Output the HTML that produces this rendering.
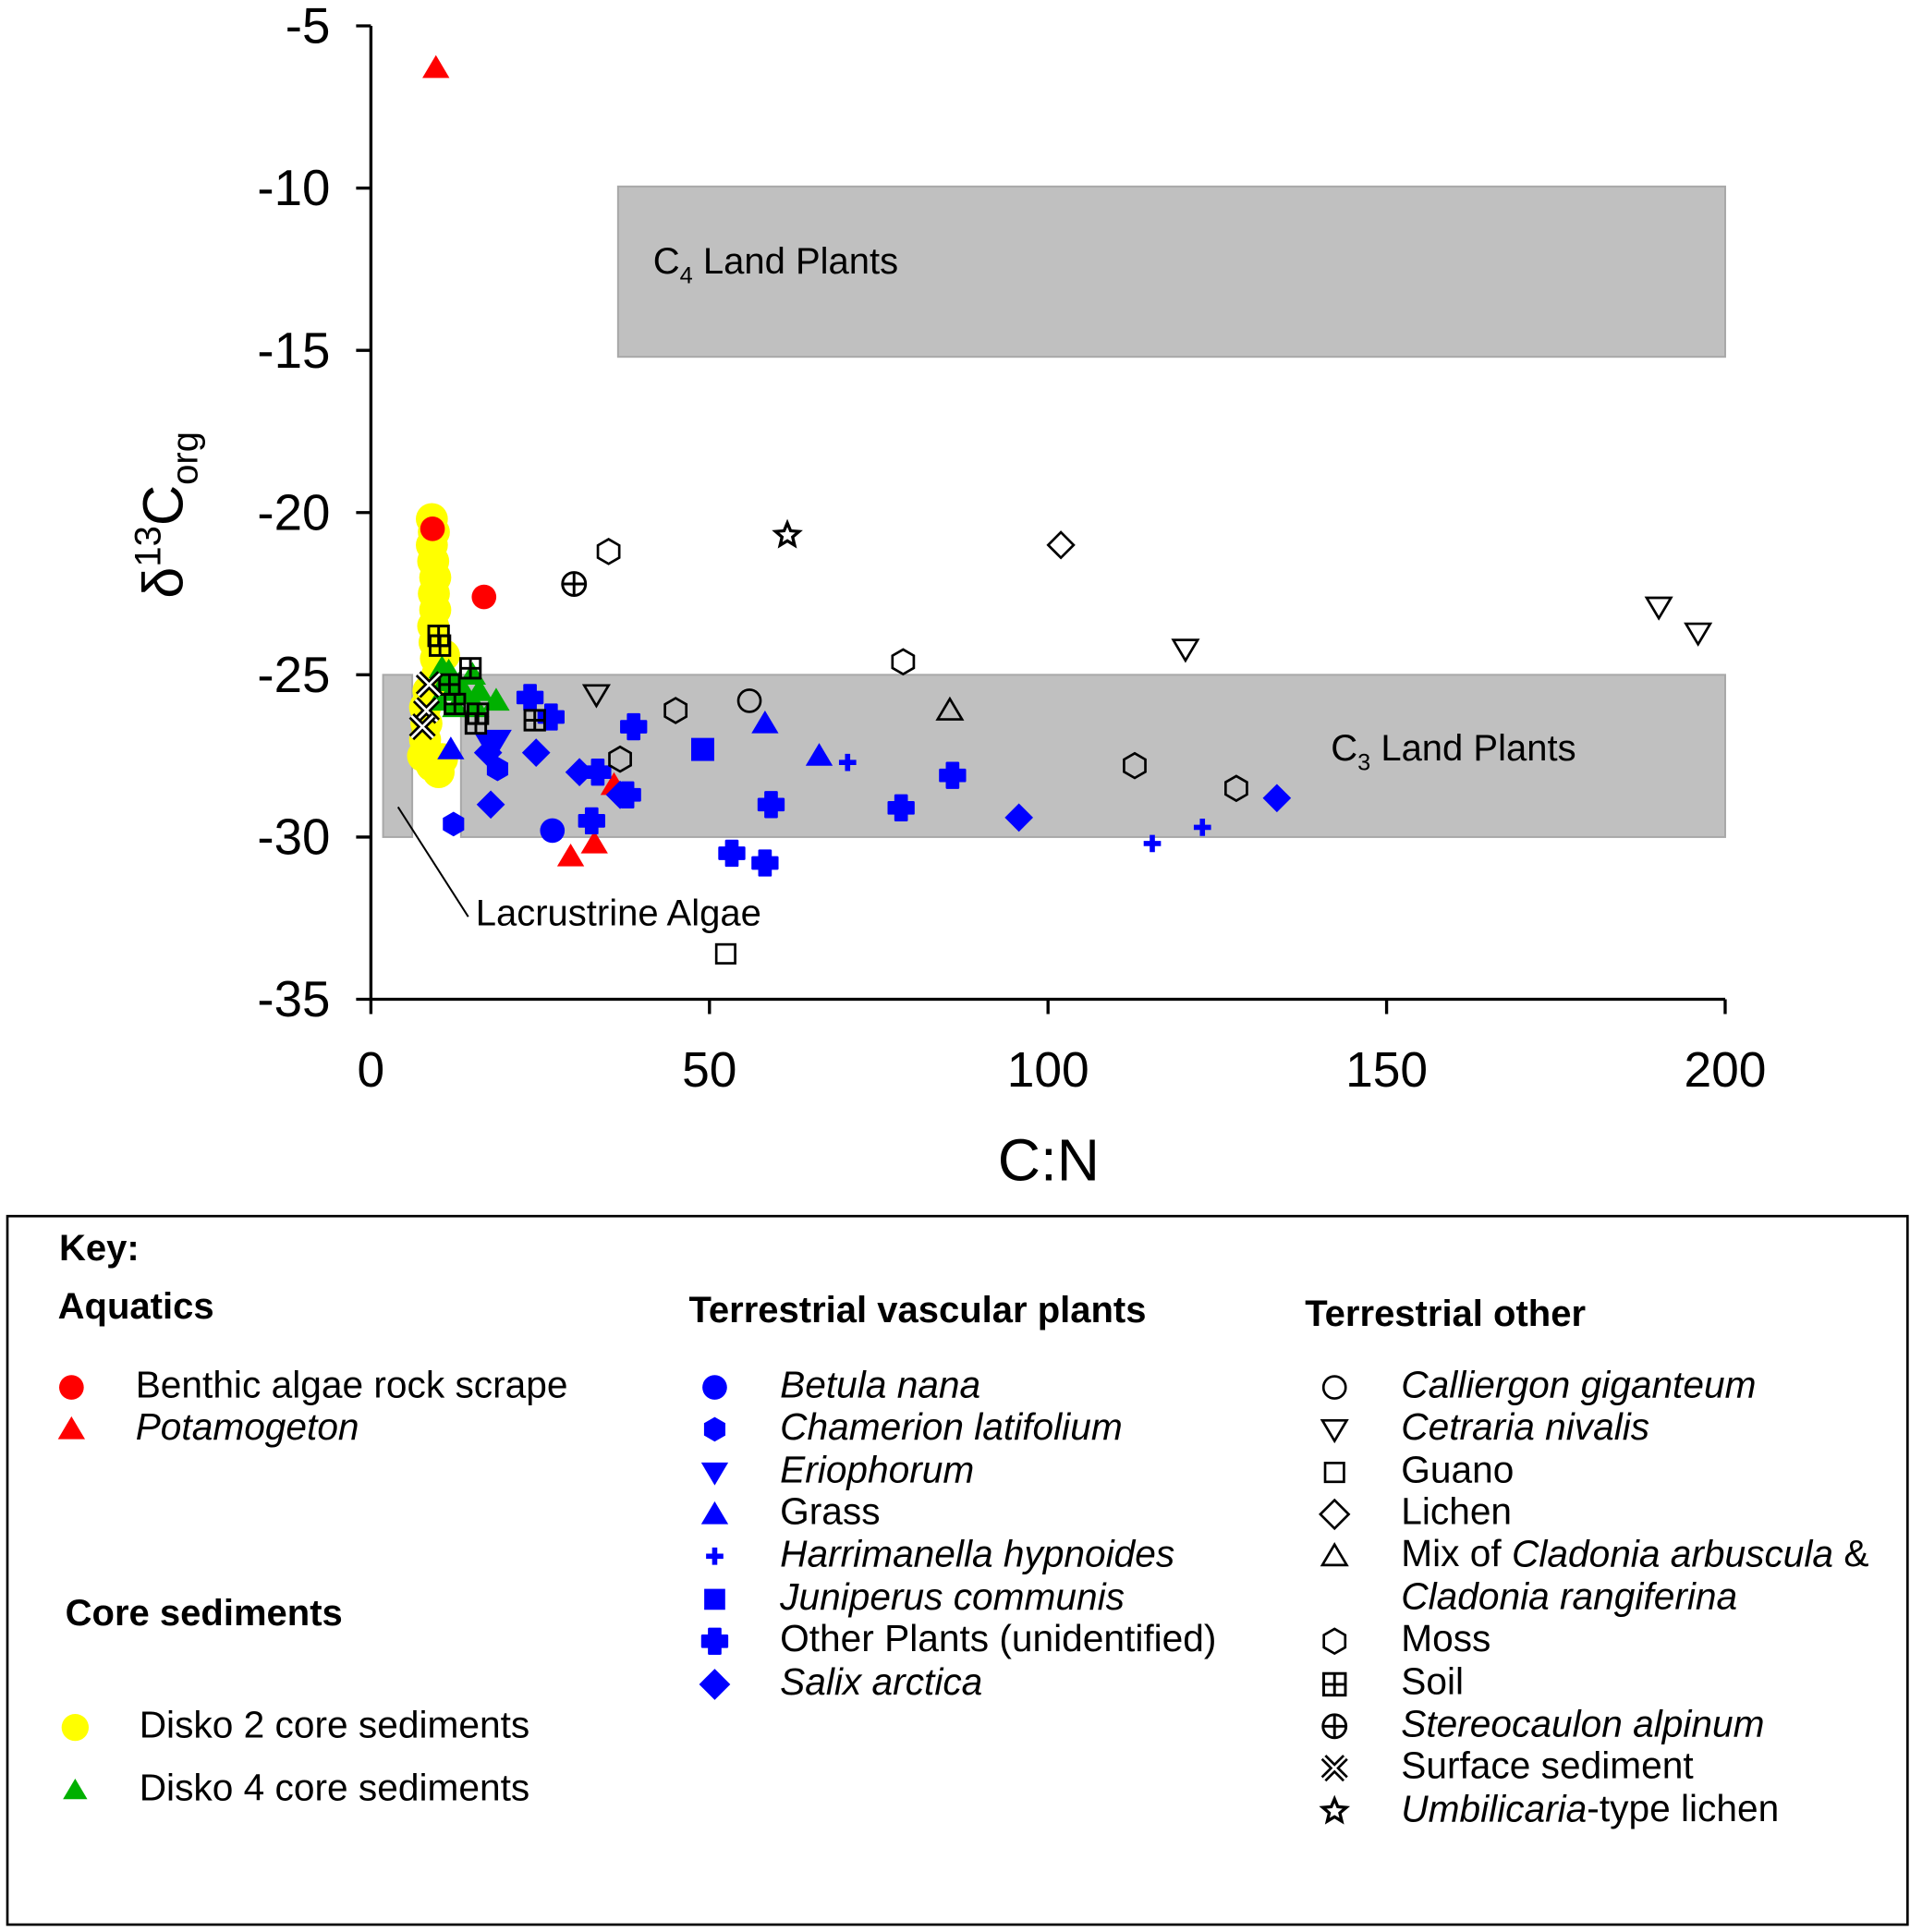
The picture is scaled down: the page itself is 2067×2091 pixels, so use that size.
<!DOCTYPE html>
<html><head><meta charset="utf-8"><style>
html,body{margin:0;padding:0;background:#fff}
svg{display:block;font-family:"Liberation Sans",Arial,sans-serif}
</style></head><body>
<svg id="chart" width="2067" height="2091" viewBox="0 0 1550 1568" preserveAspectRatio="none" xmlns="http://www.w3.org/2000/svg">
<g id="plot"></g>
<g id="legend"></g>
</svg>
<script>
const xTicks=[0,50,100,150,200];
const yTicks=[-5,-10,-15,-20,-25,-30,-35];
const benthicAlgae=[[9.1,-20.5],[16.7,-22.6]];
const potamogeton=[[9.6,-6.3],[29.5,-30.6],[33,-30.2],[35.9,-28.4]];
const disko2=[[9,-20.2],[9.3,-20.6],[9,-21],[9.2,-21.5],[9.5,-22],[9.3,-22.5],[9.5,-23],[9.2,-23.5],[9.4,-24],[9.6,-24.5],[9.8,-25],[10.8,-24.4],[8.5,-25.5],[8,-26],[8.2,-26.5],[8,-27],[7.7,-27.5],[9,-27.8],[10,-28],[10.5,-27.6]];
const disko4=[[10.5,-24.8],[11,-25.2],[12,-25.5],[13,-25.3],[14,-25.6],[15,-25],[16,-25.5],[18.5,-25.8],[10,-25.8],[12.5,-26],[11.5,-24.9],[15.5,-26]];
const betula=[[26.8,-29.8]];
const chamerion=[[12.2,-29.6],[18.7,-27.9]];
const eriophorum=[[17.3,-27.1],[18.8,-27]];
const grass=[[11.8,-27.3],[58.2,-26.5],[66.2,-27.5]];
const harrimanella=[[70.4,-27.7],[115.4,-30.2],[122.8,-29.7]];
const juniperus=[[49,-27.3]];
const otherPlants=[[23.5,-25.7],[26.6,-26.3],[38.8,-26.6],[32.6,-29.5],[37.9,-28.7],[59.1,-29],[53.3,-30.5],[58.2,-30.8],[78.3,-29.1],[85.9,-28.1],[33.5,-28]];
const salix=[[24.4,-27.4],[17.7,-29],[30.8,-28],[36.8,-28.7],[95.7,-29.4],[133.8,-28.8],[17.3,-27.4]];
const calliergon=[[55.9,-25.8]];
const cetraria=[[33.3,-25.6],[120.3,-24.2],[190.2,-22.9],[196,-23.7]];
const guano=[[52.4,-33.6]];
const lichen=[[101.9,-21]];
const cladoniaMix=[[85.5,-26.1]];
const moss=[[35.1,-21.2],[45,-26.1],[78.6,-24.6],[36.8,-27.6],[112.8,-27.8],[127.8,-28.5]];
const soil=[[10,-23.8],[10.2,-24.1],[14.7,-24.8],[11.6,-25.3],[12.4,-25.9],[15.8,-26.2],[24.2,-26.4],[15.5,-26.5]];
const stereocaulon=[[30,-22.2]];
const surfaceSed=[[8.6,-25.3],[8.2,-26.1],[7.6,-26.6]];
const umbilicaria=[[61.5,-20.7]];

const NS="http://www.w3.org/2000/svg";
const X0=301,X1=1400,Y0=21,Y1=811;
function sx(v){return X0+(v-0)/(200-0)*(X1-X0);}
function sy(v){return Y0+(-5-v)/30*(Y1-Y0);}
function mk(tag,attrs,parent,txt){const e=document.createElementNS(NS,tag);for(const k in attrs)e.setAttribute(k,attrs[k]);if(txt!==undefined)e.textContent=txt;parent.appendChild(e);return e;}
const plot=document.getElementById('plot');
const leg=document.getElementById('legend');

function poly(pts){return pts.map(p=>p.join(',')).join(' ');}
function marker(shape,x,y,r,fill,stroke,parent){
  const g=mk('g',{},parent);
  const sw=2;const f=fill||'none';const s=stroke||'none';
  if(shape==='circle')mk('circle',{cx:x,cy:y,r:r,fill:f,stroke:s,'stroke-width':sw},g);
  else if(shape==='up')mk('polygon',{points:poly([[x,y-r*1.05],[x+r*1.1,y+r*0.8],[x-r*1.1,y+r*0.8]]),fill:f,stroke:s,'stroke-width':sw},g);
  else if(shape==='down')mk('polygon',{points:poly([[x,y+r*1.05],[x+r*1.1,y-r*0.8],[x-r*1.1,y-r*0.8]]),fill:f,stroke:s,'stroke-width':sw},g);
  else if(shape==='square')mk('rect',{x:x-r*0.85,y:y-r*0.85,width:r*1.7,height:r*1.7,fill:f,stroke:s,'stroke-width':sw},g);
  else if(shape==='diamond')mk('polygon',{points:poly([[x,y-r*1.15],[x+r*1.15,y],[x,y+r*1.15],[x-r*1.15,y]]),fill:f,stroke:s,'stroke-width':sw},g);
  else if(shape==='hex'){const q=[];for(let i=0;i<6;i++){const a=-Math.PI/2+i*Math.PI/3;q.push([x+r*Math.cos(a),y+r*Math.sin(a)]);}
    mk('polygon',{points:poly(q),fill:f,stroke:s,'stroke-width':sw},g);}
  else if(shape==='plus'){const w=r*0.3;mk('path',{d:`M${x-w},${y-r}h${2*w}v${r-w}h${r-w}v${2*w}h${-(r-w)}v${r-w}h${-2*w}v${-(r-w)}h${-(r-w)}v${-2*w}h${r-w}z`,fill:f},g);}
  else if(shape==='cross'){const w=r*0.45;mk('path',{d:`M${x-w},${y-r}h${2*w}v${r-w}h${r-w}v${2*w}h${-(r-w)}v${r-w}h${-2*w}v${-(r-w)}h${-(r-w)}v${-2*w}h${r-w}z`,fill:f,stroke:f,'stroke-width':2,'stroke-linejoin':'round'},g);}
  else if(shape==='soil'){const h=r*0.8;mk('rect',{x:x-h,y:y-h,width:2*h,height:2*h,fill:'none',stroke:'#000','stroke-width':2.2},g);mk('path',{d:`M${x},${y-h}V${y+h}M${x-h},${y}H${x+h}`,stroke:'#000','stroke-width':2.2},g);}
  else if(shape==='oplus'){mk('circle',{cx:x,cy:y,r:r*0.85,fill:'none',stroke:'#000','stroke-width':2.2},g);mk('path',{d:`M${x},${y-r*0.85}V${y+r*0.85}M${x-r*0.85},${y}H${x+r*0.85}`,stroke:'#000','stroke-width':2.2},g);}
  else if(shape==='xx'){const h=r*0.8;mk('path',{d:`M${x-h},${y-h}L${x+h},${y+h}M${x+h},${y-h}L${x-h},${y+h}`,stroke:'#000','stroke-width':6},g);mk('path',{d:`M${x-h},${y-h}L${x+h},${y+h}M${x+h},${y-h}L${x-h},${y+h}`,stroke:fill||'#fff','stroke-width':2},g);}
  else if(shape==='star'){const p=[];for(let i=0;i<10;i++){const a=-Math.PI/2+i*Math.PI/5;const rr=i%2?r*0.45:r;p.push([x+rr*Math.cos(a),y+rr*Math.sin(a)]);}mk('polygon',{points:poly(p),fill:'none',stroke:'#000','stroke-width':2.5},g);}
  return g;
}

let e;
e=mk('rect',{x:sx(36.5),y:sy(-9.95),width:sx(200)-sx(36.5),height:sy(-15.2)-sy(-9.95),fill:'#c0c0c0',stroke:'#a8a8a8','stroke-width':1.5},plot);

e=mk('rect',{x:sx(13.3),y:sy(-25),width:sx(200)-sx(13.3),height:sy(-30)-sy(-25),fill:'#c0c0c0',stroke:'#a8a8a8','stroke-width':1.5},plot);

e=mk('rect',{x:sx(1.8),y:sy(-25),width:sx(6.1)-sx(1.8),height:sy(-30)-sy(-25),fill:'#c0c0c0',stroke:'#a8a8a8','stroke-width':1.5},plot);

mk('line',{x1:323,y1:655,x2:380,y2:744,stroke:'#000','stroke-width':1.5},plot);
e=mk('text',{x:530,y:222,'font-size':30},plot);e.innerHTML='C<tspan font-size="19" dy="8">4</tspan><tspan dy="-8"> Land Plants</tspan>';

e=mk('text',{x:1080,y:617,'font-size':30},plot);e.innerHTML='C<tspan font-size="19" dy="8">3</tspan><tspan dy="-8"> Land Plants</tspan>';

e=mk('text',{x:386,y:751,'font-size':30},plot,'Lacrustrine Algae');


e=mk('path',{d:`M${X0},${Y0}V${Y1}H${X1}`,fill:'none',stroke:'#000','stroke-width':2.5},plot);

yTicks.forEach(v=>{mk('line',{x1:X0-12,x2:X0,y1:sy(v),y2:sy(v),stroke:'#000','stroke-width':2.5},plot);
  const t=mk('text',{x:268,y:sy(v)+14,'font-size':41,'text-anchor':'end'},plot,String(v));
  });
xTicks.forEach(v=>{mk('line',{x1:sx(v),x2:sx(v),y1:Y1,y2:Y1+12,stroke:'#000','stroke-width':2.5},plot);
  const t=mk('text',{x:sx(v),y:882,'font-size':40,'text-anchor':'middle'},plot,String(v));
  });
e=mk('text',{x:851,y:958,'font-size':48,'text-anchor':'middle'},plot,'C:N');

e=mk('text',{transform:'translate(148,418) rotate(-90)','font-size':46,'text-anchor':'middle'},plot);
e.innerHTML='δ<tspan font-size="30" dy="-18">13</tspan><tspan dy="18">C</tspan><tspan font-size="30" dy="12">org</tspan>';


const series=[
 [disko2,'circle',13,'#ffff00',null,'disko2-point'],
 [disko4,'up',10,'#00b000',null,'disko4-point'],
 [benthicAlgae,'circle',10,'#ff0000',null,'benthic-algae-point'],
 [potamogeton,'up',10,'#ff0000',null,'potamogeton-point'],
 [betula,'circle',10,'#0000ff',null,'betula-point'],
 [chamerion,'hex',10,'#0000ff',null,'chamerion-point'],
 [eriophorum,'down',10,'#0000ff',null,'eriophorum-point'],
 [grass,'up',10,'#0000ff',null,'grass-point'],
 [harrimanella,'plus',7,'#0000ff',null,'harrimanella-point'],
 [juniperus,'square',11,'#0000ff',null,'juniperus-point'],
 [otherPlants,'cross',10,'#0000ff',null,'other-plant-point'],
 [salix,'diamond',10,'#0000ff',null,'salix-point'],
 [calliergon,'circle',9,'none','#000','calliergon-point'],
 [cetraria,'down',9,'none','#000','cetraria-point'],
 [guano,'square',9,'none','#000','guano-point'],
 [lichen,'diamond',9,'none','#000','lichen-point'],
 [cladoniaMix,'up',9,'none','#000','cladonia-mix-point'],
 [moss,'hex',10,'none','#000','moss-point'],
 [soil,'soil',10,null,null,'soil-point'],
 [stereocaulon,'oplus',11,null,null,'stereocaulon-point'],
 [surfaceSed,'xx',11,'#fff',null,'surface-sediment-point'],
 [umbilicaria,'star',10,null,null,'umbilicaria-point']
];
series.forEach(([arr,shape,r,fill,stroke,name])=>{
  arr.forEach(([cx,cy])=>{const g=marker(shape,sx(cx),sy(cy),r,fill,stroke,plot);
    
    });
});

e=mk('rect',{x:6,y:987,width:1542,height:575,fill:'none',stroke:'#000','stroke-width':2},leg);

function head(x,y,t){const h=mk('text',{x:x,y:y,'font-size':30,'font-weight':'bold','dominant-baseline':'middle'},leg,t);
  }
head(48,1015,'Key:');head(47,1062,'Aquatics');head(53,1311,'Core sediments');
head(559,1065,'Terrestrial vascular plants');head(1059,1068,'Terrestrial other');
function entry(mx,tx,y,shape,r,fill,stroke,html){
  const g=mk('g',{},leg);
  
  
  marker(shape,mx,y,r,fill,stroke,g);
  const t=mk('text',{x:tx,y:y,'font-size':30.5,'dominant-baseline':'middle'},g);t.innerHTML=html;
}
entry(58,110,1126,'circle',10,'#ff0000',null,'Benthic algae rock scrape');
entry(58,110,1160,'up',10,'#ff0000',null,'<tspan font-style="italic">Potamogeton</tspan>');
entry(61,113,1402,'circle',11,'#ffff00',null,'Disko 2 core sediments');
entry(61,113,1453,'up',9,'#00b000',null,'Disko 4 core sediments');
const vx=580,vt=633;
entry(vx,vt,1126,'circle',10,'#0000ff',null,'<tspan font-style="italic">Betula nana</tspan>');
entry(vx,vt,1160,'hex',10,'#0000ff',null,'<tspan font-style="italic">Chamerion latifolium</tspan>');
entry(vx,vt,1195,'down',10,'#0000ff',null,'<tspan font-style="italic">Eriophorum</tspan>');
entry(vx,vt,1229,'up',10,'#0000ff',null,'Grass');
entry(vx,vt,1263,'plus',7,'#0000ff',null,'<tspan font-style="italic">Harrimanella hypnoides</tspan>');
entry(vx,vt,1298,'square',10,'#0000ff',null,'<tspan font-style="italic">Juniperus communis</tspan>');
entry(vx,vt,1332,'cross',10,'#0000ff',null,'Other Plants (unidentified)');
entry(vx,vt,1367,'diamond',11,'#0000ff',null,'<tspan font-style="italic">Salix arctica</tspan>');
const ox=1083,ot=1137;
entry(ox,ot,1126,'circle',9,'none','#000','<tspan font-style="italic">Calliergon giganteum</tspan>');
entry(ox,ot,1160,'down',9,'none','#000','<tspan font-style="italic">Cetraria nivalis</tspan>');
entry(ox,ot,1195,'square',9,'none','#000','Guano');
entry(ox,ot,1229,'diamond',10,'none','#000','Lichen');
entry(ox,ot,1263,'up',9,'none','#000','Mix of <tspan font-style="italic">Cladonia arbuscula</tspan> &amp;');
e=mk('text',{x:ot,y:1298,'font-size':30.5,'font-style':'italic','dominant-baseline':'middle'},leg,'Cladonia rangiferina');

entry(ox,ot,1332,'hex',10,'none','#000','Moss');
entry(ox,ot,1367,'soil',11,null,null,'Soil');
entry(ox,ot,1401,'oplus',11,null,null,'<tspan font-style="italic">Stereocaulon alpinum</tspan>');
entry(ox,ot,1435,'xx',11,'#fff',null,'Surface sediment');
entry(ox,ot,1470,'star',10,null,null,'<tspan font-style="italic">Umbilicaria</tspan>-type lichen');
</script>
</body></html>
